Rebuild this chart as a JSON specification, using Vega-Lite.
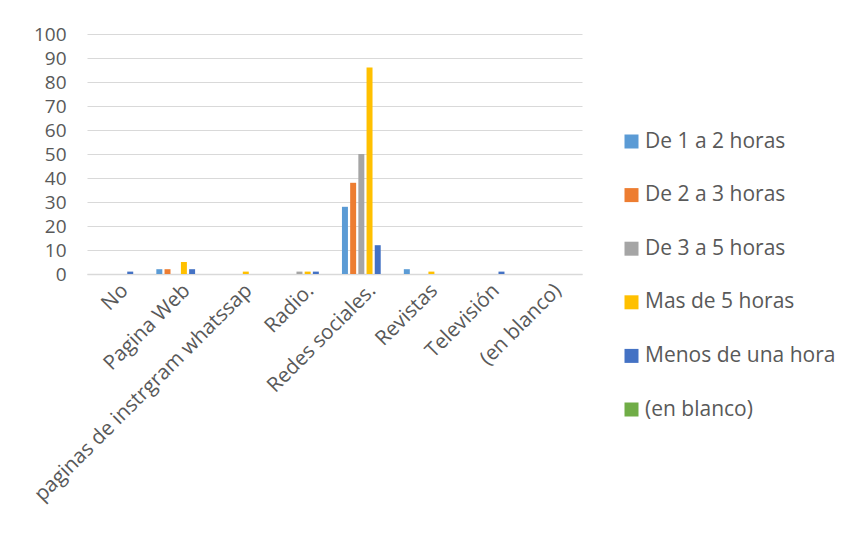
{
  "$schema": "https://vega.github.io/schema/vega-lite/v6.json",
  "width": 495,
  "height": 240,
  "autosize": {"type": "none"},
  "padding": {"left": 87, "top": 34, "right": 266, "bottom": 269},
  "background": "white",
  "data": {
    "values": [
      {"medio": "No", "tiempo": "Menos de una hora", "valor": 1},
      {"medio": "Pagina Web", "tiempo": "De 1 a 2 horas", "valor": 2},
      {"medio": "Pagina Web", "tiempo": "De 2 a 3 horas", "valor": 2},
      {"medio": "Pagina Web", "tiempo": "Mas de 5 horas", "valor": 5},
      {"medio": "Pagina Web", "tiempo": "Menos de una hora", "valor": 2},
      {"medio": "paginas de instrgram whatssap", "tiempo": "Mas de 5 horas", "valor": 1},
      {"medio": "Radio.", "tiempo": "De 3 a 5 horas", "valor": 1},
      {"medio": "Radio.", "tiempo": "Mas de 5 horas", "valor": 1},
      {"medio": "Radio.", "tiempo": "Menos de una hora", "valor": 1},
      {"medio": "Redes sociales.", "tiempo": "De 1 a 2 horas", "valor": 28},
      {"medio": "Redes sociales.", "tiempo": "De 2 a 3 horas", "valor": 38},
      {"medio": "Redes sociales.", "tiempo": "De 3 a 5 horas", "valor": 50},
      {"medio": "Redes sociales.", "tiempo": "Mas de 5 horas", "valor": 86},
      {"medio": "Redes sociales.", "tiempo": "Menos de una hora", "valor": 12},
      {"medio": "Revistas", "tiempo": "De 1 a 2 horas", "valor": 2},
      {"medio": "Revistas", "tiempo": "Mas de 5 horas", "valor": 1},
      {"medio": "Televisión", "tiempo": "Menos de una hora", "valor": 1}
    ]
  },
  "mark": {"type": "bar"},
  "encoding": {
    "x": {
      "field": "medio",
      "type": "nominal",
      "sort": null,
      "scale": {
        "domain": ["No", "Pagina Web", "paginas de instrgram whatssap", "Radio.", "Redes sociales.", "Revistas", "Televisión", "(en blanco)"],
        "paddingInner": 0,
        "paddingOuter": 0
      },
      "axis": {
        "title": null,
        "labelAngle": -45,
        "labelAlign": "right",
        "labelBaseline": "top",
        "labelFont": "Open Sans",
        "labelFontSize": 20.5,
        "labelColor": "#595959",
        "labelPadding": 6,
        "ticks": false,
        "domainColor": "#D9D9D9",
        "domainWidth": 1.5,
        "labelLimit": 400
      }
    },
    "xOffset": {
      "field": "tiempo",
      "type": "nominal",
      "scale": {
        "domain": ["De 1 a 2 horas", "De 2 a 3 horas", "De 3 a 5 horas", "Mas de 5 horas", "Menos de una hora", "(en blanco)"],
        "paddingInner": 0.27,
        "paddingOuter": 0.91
      }
    },
    "y": {
      "field": "valor",
      "type": "quantitative",
      "scale": {"domain": [0, 100]},
      "axis": {
        "title": null,
        "values": [0, 10, 20, 30, 40, 50, 60, 70, 80, 90, 100],
        "labelFont": "Open Sans",
        "labelFontSize": 19,
        "labelColor": "#595959",
        "labelPadding": 21,
        "ticks": false,
        "domain": false,
        "gridColor": "#D9D9D9",
        "gridWidth": 1
      }
    },
    "color": {
      "field": "tiempo",
      "type": "nominal",
      "scale": {
        "domain": ["De 1 a 2 horas", "De 2 a 3 horas", "De 3 a 5 horas", "Mas de 5 horas", "Menos de una hora", "(en blanco)"],
        "range": ["#5B9BD5", "#ED7D31", "#A5A5A5", "#FFC000", "#4472C4", "#70AD47"]
      },
      "legend": {
        "title": null,
        "orient": "none",
        "legendX": 534,
        "legendY": 97,
        "symbolType": "square",
        "symbolSize": 196,
        "symbolStrokeWidth": 0,
        "labelFont": "Open Sans",
        "labelFontSize": 21,
        "labelColor": "#595959",
        "labelOffset": 3,
        "rowPadding": 31.6,
        "labelLimit": 300
      }
    }
  },
  "config": {
    "view": {"stroke": null}
  }
}
